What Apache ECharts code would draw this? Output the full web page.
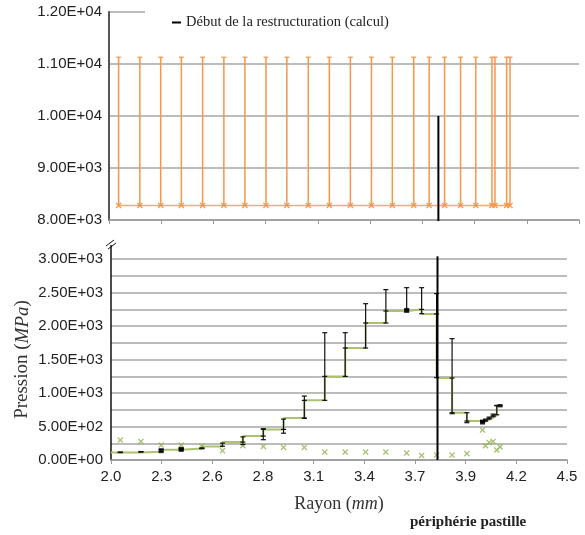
<!DOCTYPE html>
<html lang="fr">
<head>
<meta charset="UTF-8">
<title>Pression en fonction du rayon</title>
<style>
    html, body { margin: 0; padding: 0; background: #fff; }
    #main { width: 585px; height: 535px; }
</style>
</head>
<body>
<div id="main"></div>
<script src="https://cdn.jsdelivr.net/npm/echarts@6.0.0/dist/echarts.min.js"></script>
<script>
    const chart = echarts.init(document.getElementById('main'));

    // graduations de l'axe des rayons (libellés arrondis à 0.1)
    const graduationsX = [2.0, 2.2778, 2.5556, 2.8333, 3.1111, 3.3889, 3.6667, 3.9444, 4.2222, 4.5];

    // rayons des anneaux (mm)
    const rayons = [2.051, 2.164, 2.275, 2.385, 2.498, 2.611, 2.723, 2.835, 2.946, 3.060,
                    3.172, 3.284, 3.396, 3.507, 3.621, 3.703, 3.785, 3.870, 3.951, 4.037,
                    4.053, 4.073, 4.095, 4.115, 4.133];
    // pression en escalier (MPa), palier qui commence à chaque rayon
    const debutPalier = [2.0, 113];
    const pressionPalier = [113, 124, 154, 173, 203, 267, 357, 457, 626, 890,
                            1248, 1671, 2045, 2224, 2248, 2180, 1223, 706, 581, 575,
                            595, 625, 660, 810, 810];
    // barres d'erreur (MPa)
    const barreBas = [110, 118, 125, 148, 168, 205, 230, 303, 400, 621,
                      890, 1248, 1671, 2045, 2224, 2184, 1229, 691, 557, 555,
                      580, 610, 645, 675, 795];
    const barreHaut = [118, 126, 158, 175, 180, 252, 345, 467, 610, 954,
                       1900, 1900, 2333, 2543, 2572, 2572, 2483, 1811, 706, 585,
                       610, 640, 685, 815, 825];
    // croix vertes (MPa)
    const pressionCroix = [297, 277, 223, 223, 208, 139, 213, 203, 188, 188,
                           119, 119, 119, 119, 104, 69, 74, 74, 94, 446,
                           213, 263, 277, 149, 198];
    // points noirs
    const pointsNoirs = [[2.275, 139], [2.385, 158], [3.621, 2232], [4.037, 566]];

    // panneau du haut
    const rayonsHaut = [2.051, 2.164, 2.275, 2.385, 2.498, 2.611, 2.723, 2.835, 2.946, 3.060,
                        3.172, 3.284, 3.396, 3.507, 3.621, 3.703, 3.785, 3.870, 3.951, 4.037,
                        4.053, 4.115, 4.133];
    const orangeBas = [8280, 8280, 8280, 8280, 8280, 8280, 8280, 8280, 8280, 8280,
                       8280, 8280, 8280, 8280, 8280, 8280, 8280, 8280, 8280, 8280,
                       8280, 8280, 8280];
    const orangeHaut = [11130, 11130, 11130, 11130, 11130, 11130, 11130, 11130, 11130, 11130,
                        11130, 11130, 11130, 11130, 11130, 11130, 11130, 11130, 11130, 11130,
                        11130, 11130, 11130];

    // début de la restructuration (les deux panneaux n'ont pas la même largeur)
    const restructBas = [[3.79, 0], [3.79, 3040]];
    const restructHaut = [[3.752, 7980], [3.752, 10000]];

    const nomRestruct = 'Début de la restructuration (calcul)';
    const croix = 'path://M0,1.5L1.5,0L5,3.5L8.5,0L10,1.5L6.5,5L10,8.5L8.5,10L5,6.5L1.5,10L0,8.5L3.5,5Z';
    const serif = 'Liberation Serif';
    const sans = 'Liberation Sans';

    function formatExp(v) {
        if (v === 0) return '0.00E+00';
        const e = Math.floor(Math.log10(Math.abs(v)) + 1e-9);
        const m = (v / Math.pow(10, e)).toFixed(2);
        return m + 'E' + (e < 0 ? '-' : '+') + String(Math.abs(e)).padStart(2, '0');
    }

    // données escalier et barres
    const escalier = [debutPalier].concat(rayons.map((r, i) => [r, pressionPalier[i]]));
    const barres = rayons.map((r, i) => [r, barreBas[i], barreHaut[i],
        i > 0 ? pressionPalier[i - 1] : pressionPalier[i], pressionPalier[i]]);
    const croixVertes = rayons.map((r, i) => [r, pressionCroix[i]]);
    const ligneOrange = rayonsHaut.map((r, i) => [r, orangeBas[i]]);
    const barresOrange = rayonsHaut.map((r, i) => [r, orangeBas[i], orangeHaut[i]]);

    function cap(p, w, color) {
        return {type: 'line', shape: {x1: p[0] - w, y1: p[1], x2: p[0] + w, y2: p[1]},
                style: {stroke: color, lineWidth: 1.2}};
    }

    function renderBarre(params, api) {
        const x = api.value(0), lo = api.value(1), hi = api.value(2);
        const a = api.coord([x, lo]), b = api.coord([x, hi]);
        const kids = [{type: 'line', shape: {x1: a[0], y1: a[1], x2: b[0], y2: b[1]},
                       style: {stroke: '#111', lineWidth: 1.2}}];
        kids.push(cap(a, 2.5, '#111'), cap(b, 2.5, '#111'));
        [api.value(3), api.value(4)].forEach(v => {
            if (v > lo && v < hi) kids.push(cap(api.coord([x, v]), 2.5, '#111'));
        });
        return {type: 'group', children: kids};
    }

    function renderBarreOrange(params, api) {
        const x = api.value(0);
        const a = api.coord([x, api.value(1)]), b = api.coord([x, api.value(2)]);
        return {type: 'group', children: [
            {type: 'line', shape: {x1: a[0], y1: a[1], x2: b[0], y2: b[1]},
             style: {stroke: '#f79646', lineWidth: 1.5}},
            cap(b, 2.5, '#f79646')
        ]};
    }

    const option = {
        animation: false,
        backgroundColor: '#fff',
        title: {
            text: 'périphérie pastille',
            left: 410, top: 515,
            padding: 0,
            textStyle: {fontFamily: serif, fontSize: 15, fontWeight: 'bold', color: '#222'}
        },
        legend: {
            data: [nomRestruct],
            left: 145, top: 10,
            padding: [5, 200, 5, 27],
            backgroundColor: '#fff',
            icon: 'rect', itemWidth: 9, itemHeight: 2, itemGap: 0,
            textStyle: {fontFamily: serif, fontSize: 14.5, color: '#222', padding: [2, 0, 0, 0]}
        },
        grid: [
            {left: 109, right: 6, top: 12, bottom: 315},
            {left: 111, right: 18, top: 259, bottom: 75}
        ],
        xAxis: [
            {
                type: 'value', gridIndex: 0, min: 2, max: 4.5,
                axisLine: {show: true, lineStyle: {color: '#999', width: 1.5}},
                axisTick: {show: true, length: 4, customValues: graduationsX, lineStyle: {color: '#999'}},
                axisLabel: {show: false},
                splitLine: {show: false}
            },
            {
                type: 'value', gridIndex: 1, min: 2, max: 4.5,
                name: 'Rayon ({i|mm})', nameLocation: 'middle', nameGap: 35,
                nameTextStyle: {fontFamily: serif, fontSize: 18, color: '#333',
                    rich: {i: {fontFamily: serif, fontSize: 18, fontStyle: 'italic', color: '#333'}}},
                axisLine: {show: true, lineStyle: {color: '#999', width: 1.5}},
                axisTick: {show: true, length: 4, customValues: graduationsX, lineStyle: {color: '#999'}},
                axisLabel: {customValues: graduationsX, margin: 9, fontFamily: sans, fontSize: 15,
                    color: '#222', formatter: v => v.toFixed(1)},
                splitLine: {show: false}
            }
        ],
        yAxis: [
            {
                type: 'value', gridIndex: 0, min: 8000, max: 12000, interval: 1000,
                axisLine: {show: true, lineStyle: {color: '#555', width: 2}},
                axisTick: {show: false},
                axisLabel: {margin: 7, fontFamily: sans, fontSize: 15, color: '#222', formatter: formatExp},
                splitLine: {lineStyle: {color: '#a6a6a6', width: 1.5}}
            },
            {
                type: 'value', gridIndex: 1, min: 0, max: 3000, interval: 250,
                name: 'Pression ({i|MPa})', nameLocation: 'middle', nameGap: 79,
                nameMoveOverlap: false,
                nameTextStyle: {fontFamily: serif, fontSize: 19, color: '#333',
                    rich: {i: {fontFamily: serif, fontSize: 19, fontStyle: 'italic', color: '#333'}}},
                axisLine: {show: true, lineStyle: {color: '#111', width: 1.5}},
                axisTick: {show: false},
                axisLabel: {margin: 8, fontFamily: sans, fontSize: 15, color: '#222',
                    formatter: v => (v % 500 === 0 ? formatExp(v) : '')},
                splitLine: {lineStyle: {color: '#a6a6a6', width: 1.5}}
            }
        ],
        graphic: [
            {type: 'line', shape: {x1: 111, y1: 245, x2: 111, y2: 259}, style: {stroke: '#111', lineWidth: 1.5}},
            {type: 'line', shape: {x1: 106, y1: 246, x2: 114, y2: 240}, style: {stroke: '#111', lineWidth: 1}},
            {type: 'line', shape: {x1: 108, y1: 249, x2: 116, y2: 243}, style: {stroke: '#111', lineWidth: 1}}
        ],
        series: [
            {
                type: 'line', xAxisIndex: 0, yAxisIndex: 0, data: ligneOrange,
                symbol: croix, symbolSize: 6, itemStyle: {color: '#f79646'},
                lineStyle: {color: '#f9a96b', width: 1.5}, z: 3
            },
            {
                type: 'custom', xAxisIndex: 0, yAxisIndex: 0, data: barresOrange,
                renderItem: renderBarreOrange, z: 2
            },
            {
                name: nomRestruct, type: 'line', xAxisIndex: 0, yAxisIndex: 0, data: restructHaut,
                symbol: 'none', lineStyle: {color: '#000', width: 2}, itemStyle: {color: '#000'},
                clip: false, z: 4
            },
            {
                type: 'scatter', xAxisIndex: 1, yAxisIndex: 1, data: croixVertes,
                symbol: croix, symbolSize: 6, itemStyle: {color: '#8fb04a'}, z: 3
            },
            {
                type: 'custom', xAxisIndex: 1, yAxisIndex: 1, data: barres,
                renderItem: renderBarre, z: 4
            },
            {
                type: 'line', step: 'end', xAxisIndex: 1, yAxisIndex: 1, data: escalier,
                symbol: 'none', lineStyle: {color: '#a9c46c', width: 2}, z: 3
            },
            {
                type: 'scatter', xAxisIndex: 1, yAxisIndex: 1, data: pointsNoirs,
                symbol: 'rect', symbolSize: 5, itemStyle: {color: '#000'}, z: 5
            },
            {
                name: nomRestruct, type: 'line', xAxisIndex: 1, yAxisIndex: 1, data: restructBas,
                symbol: 'none', lineStyle: {color: '#000', width: 2}, itemStyle: {color: '#000'},
                clip: false, z: 6
            }
        ]
    };

    chart.setOption(option);
</script>
</body>
</html>
